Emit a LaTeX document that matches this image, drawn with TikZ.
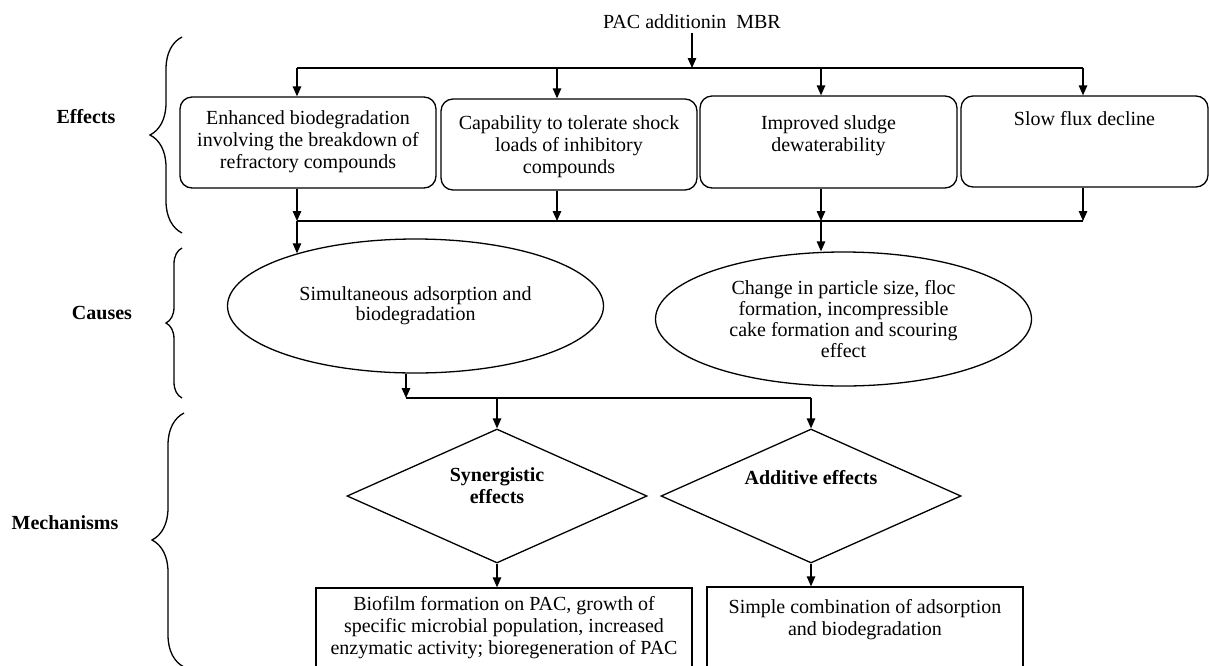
\documentclass[tikz,border=0pt]{standalone}
\usepackage{fontspec}
\setmainfont{Liberation Serif}
\usetikzlibrary{arrows.meta,shapes.geometric,decorations.pathreplacing}
\begin{document}
\begin{tikzpicture}[x=1pt,y=-1pt,
  every node/.style={font=\fontsize{20}{22}\selectfont},
  ln/.style={line width=1.3pt},
  arr/.style={ln,-{Triangle[length=10pt,width=8.5pt]}},
  rbox/.style={draw,ln,rounded corners=12pt,inner sep=0pt},
  sbox/.style={draw,ln,inner sep=0pt},
  ell/.style={draw,ln,ellipse,inner sep=0pt,minimum width=376pt,minimum height=134pt,align=center},
  dia/.style={draw,ln,diamond,shape aspect=2.24,inner sep=0pt,minimum width=300pt,minimum height=134pt,font=\fontsize{20}{22}\selectfont\bfseries},
  lab/.style={font=\fontsize{20}{22}\selectfont\bfseries},
  brc/.style={ln,decorate,decoration={brace,amplitude=#1}}
]
\useasboundingbox (0,0) rectangle (1209,665);
\clip (0,0) rectangle (1209,665);

% title
\node (title) at (692,22) {PAC additionin\ \ MBR};

% effects boxes
\node[rbox] (b1) at (308,142.5) {\parbox[c][91pt][t]{256pt}{\centering\rule{0pt}{27pt}Enhanced biodegradation\\involving the breakdown of\\refractory compounds}};
\node[rbox] (b2) at (569,144.5) {\parbox[c][91pt][t]{256pt}{\centering\rule{0pt}{30pt}Capability to tolerate shock\\loads of inhibitory\\compounds}};
\node[rbox] (b3) at (828.5,142) {\parbox[c][92pt][t]{257pt}{\centering\rule{0pt}{33pt}Improved sludge\\dewaterability}};
\node[rbox] (b4) at (1084.5,141.5) {\parbox[c][91pt][t]{247pt}{\centering\rule{0pt}{29pt}Slow flux decline}};

% causes
\node[ell,font=\fontsize{20}{20}\selectfont] (e1) at (415.5,306) {Simultaneous adsorption and\\biodegradation};
\node[ell,font=\fontsize{20}{21}\selectfont] (e2) at (843.5,319) {Change in particle size, floc\\formation, incompressible\\cake formation and scouring\\effect};

% mechanisms
\node[dia] (d1) at (497,496) {\raisebox{3pt}[0pt][0pt]{\begin{tabular}{@{}c@{}}Synergistic\\effects\end{tabular}}};
\node[dia] (d2) at (811,496) {\raisebox{11pt}[0pt][0pt]{\begin{tabular}{@{}c@{}}Additive effects\end{tabular}}};

\node[sbox] (b5) at (504,644) {\parbox[c][112pt][t]{376pt}{\centering\rule{0pt}{22pt}Biofilm formation on PAC, growth of\\specific microbial population, increased\\enzymatic activity; bioregeneration of PAC}};
\node[sbox] (b6) at (865,643.5) {\parbox[c][113pt][t]{316pt}{\centering\rule{0pt}{26pt}Simple combination of adsorption\\and biodegradation}};

% labels and braces
\node[lab] (l1) at (86,117) {Effects};
\node[lab] (l2) at (102,313) {Causes};
\node[lab] (l3) at (65,523) {Mechanisms};
\draw[brc=32] (182,233) -- (182,37);
\draw[brc=16] (182,398) -- (182,248);
\draw[brc=32] (184,667) -- (184,413);

% top distribution
\coordinate (j0) at (692,68);
\coordinate (t1) at (297,68);
\coordinate (t2) at (557,68);
\coordinate (t3) at (821,68);
\coordinate (t4) at (1083,68);
\draw[arr] (title) -- (j0);
\draw[ln] (t1) -- (t4);
\draw[arr] (t1) -- (t1 |- b1.north);
\draw[arr] (t2) -- (t2 |- b2.north);
\draw[arr] (t3) -- (t3 |- b3.north);
\draw[arr] (t4) -- (t4 |- b4.north);

% collection line
\coordinate (u1) at (297,221);
\coordinate (u2) at (557,221);
\coordinate (u3) at (821,221);
\coordinate (u4) at (1083,221);
\draw[arr] (b1.south -| u1) -- (u1);
\draw[arr] (b2.south -| u2) -- (u2);
\draw[arr] (b3.south -| u3) -- (u3);
\draw[arr] (b4.south -| u4) -- (u4);
\draw[ln] (u1) -- (u4);
\draw[arr] (u1) -- (u1 |- e1.156);
\draw[arr] (u3) -- (u3 |- e2.north);

% to mechanisms
\coordinate (m0) at (406,398);
\coordinate (m1) at (497,398);
\coordinate (m2) at (811,398);
\draw[arr] (m0 |- e1.south) -- (m0);
\draw[ln] (m0) -- (m2);
\draw[arr] (m1) -- (d1.north);
\draw[arr] (m2) -- (d2.north);
\draw[arr] (d1.south) -- (d1.south |- b5.north);
\draw[arr] (d2.south) -- (d2.south |- b6.north);
\end{tikzpicture}
\end{document}
